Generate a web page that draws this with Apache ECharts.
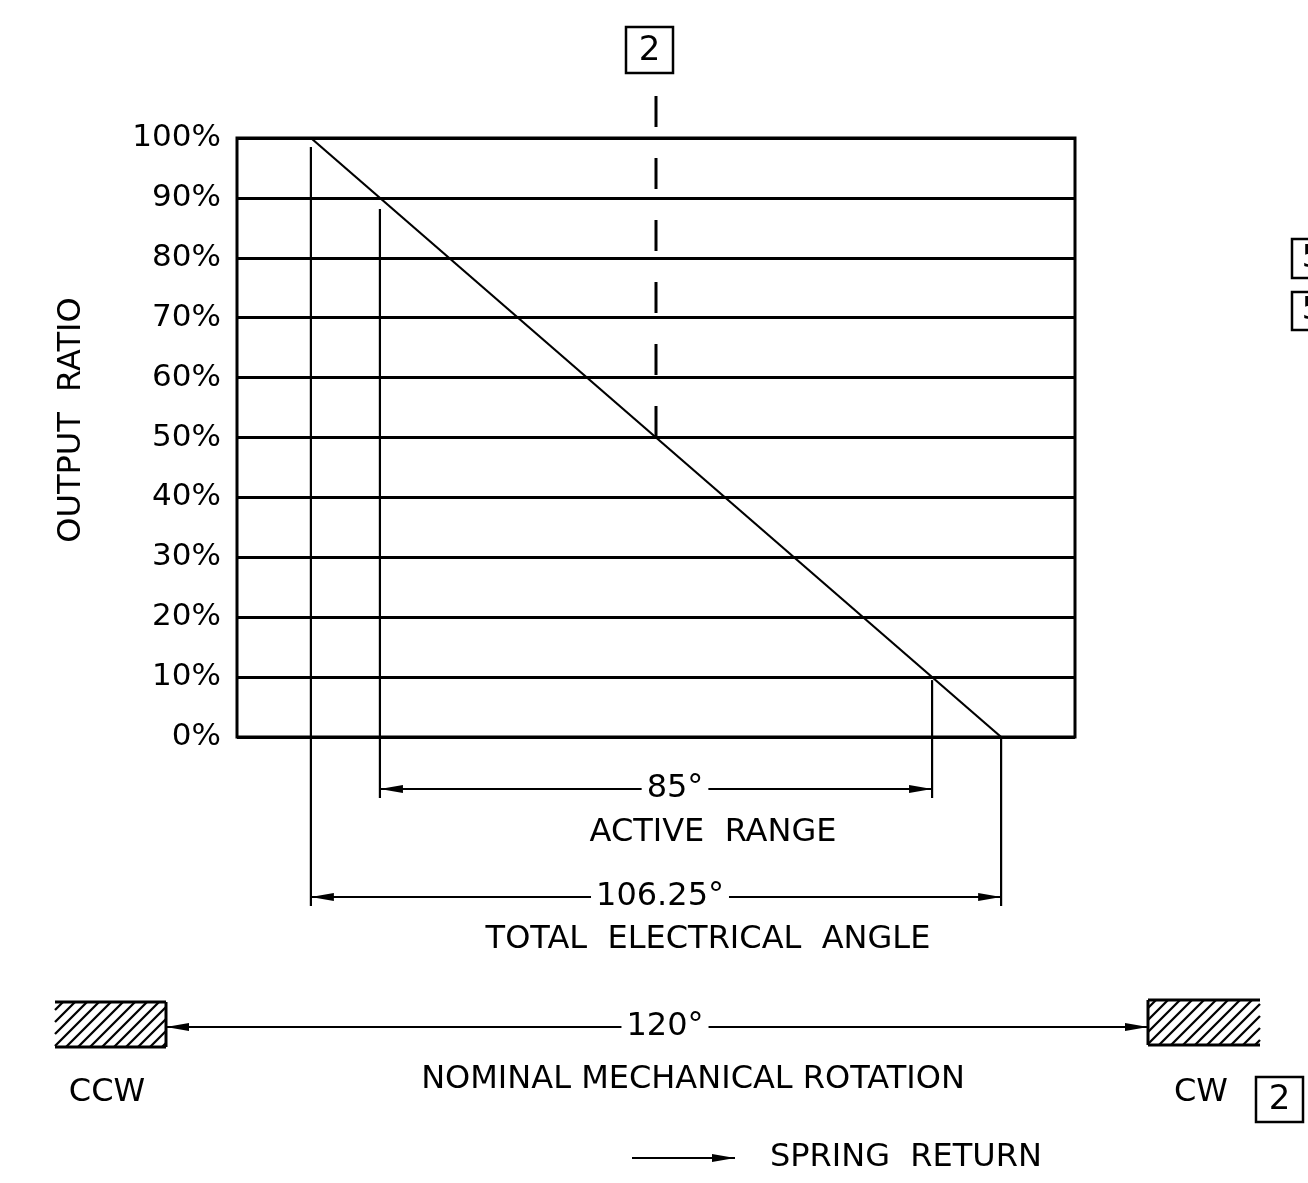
<!DOCTYPE html>
<html>
<head>
<meta charset="utf-8">
<script src="https://cdn.jsdelivr.net/npm/echarts@6/dist/echarts.min.js"></script>
<style>
  html, body { margin: 0; padding: 0; background: #fff; }
  #chart { width: 1308px; height: 1183px; }
</style>
</head>
<body>
<div id="chart"></div>
<script>
// ---- data (degrees of rotation, output ratio in %) ----
const outputTicks = [0, 10, 20, 30, 40, 50, 60, 70, 80, 90, 100];
const curveAngle = [-53.125, 53.125];        // electrical angle endpoints (deg, centred on 50%)
const curveOutput = [100, 0];                // output ratio at those endpoints (%)
const activeRangeOutput = [90, 10];          // output ratio at active range ends (%)
const activeRangeDeg = 85;
const totalElectricalDeg = 106.25;
const mechanicalRotationDeg = 120;
const refMarkOutput = 50;                    // boxed "2" reference point

const FONT = 'DejaVu Sans';
const FS = 32;
const chart = echarts.init(document.getElementById('chart'), null, { renderer: 'canvas' });

const curve = curveAngle.map((a, i) => [a, curveOutput[i]]);

chart.setOption({
  backgroundColor: '#ffffff',
  animation: false,
  grid: { left: 237, right: 233, top: 138, bottom: 446, show: true, borderColor: '#000', borderWidth: 3, backgroundColor: 'transparent' },
  xAxis: { type: 'value', min: -64.5, max: 64.5, show: false },
  yAxis: {
    type: 'value', min: 0, max: 100, interval: 10,
    axisLine: { show: false }, axisTick: { show: false },
    axisLabel: { formatter: '{value}%', color: '#000', fontFamily: FONT, fontSize: 31, margin: 16 },
    splitLine: { show: true, lineStyle: { color: '#000', width: 3 } }
  },
  series: [{
    type: 'line', data: curve, symbol: 'none', clip: false,
    lineStyle: { color: '#000', width: 2.2 }
  }]
});

// helpers
const P = (x, y) => chart.convertToPixel({ gridIndex: 0 }, [x, y]);
const halfActive = activeRangeDeg / 2;
const els = [];
const line = (x1, y1, x2, y2, w, dash) => els.push({
  type: 'line', shape: { x1, y1, x2, y2 },
  style: { stroke: '#000', lineWidth: w || 2.2, lineDash: dash || null }, z: 10
});
const arrow = (tipX, y, dir) => els.push({
  type: 'polygon', shape: { points: [[tipX, y], [tipX - dir * 23, y - 4], [tipX - dir * 23, y + 4]] },
  style: { fill: '#000' }, z: 11
});
const text = (t, x, y, size, align, bg) => els.push({
  type: 'text', x, y, style: {
    text: t, fill: '#000', font: `${size || FS}px "${FONT}"`, textAlign: align || 'center', textVerticalAlign: 'middle',
    backgroundColor: bg ? '#fff' : null, padding: bg ? [0, 5] : null
  }, z: 12
});
const boxed = (t, x, y, w, h) => {
  els.push({ type: 'rect', shape: { x, y, width: w, height: h }, style: { fill: '#fff', stroke: '#000', lineWidth: 2.5 }, z: 10 });
  text(t, x + w / 2, y + h / 2 + 1, 34);
};
const hatch = (x0, y0, x1, y1, openSide) => {
  const s = 12;
  for (let c = x0 + y0 + 8; c < x1 + y1; c += s) {
    const xa = Math.max(x0, c - y1), xb = Math.min(x1, c - y0);
    if (xa < xb) line(xa, c - xa, xb, c - xb, 2.3);
  }
  line(x0, y0, x1, y0, 3); line(x0, y1, x1, y1, 3);
  if (openSide === 'left') line(x1, y0, x1, y1, 3); else line(x0, y0, x0, y1, 3);
};

// curve endpoints and active-range points in pixels
const pTop = P(curveAngle[0], curveOutput[0]);
const pBot = P(curveAngle[1], curveOutput[1]);
const pA90 = P(-halfActive, activeRangeOutput[0]);
const pA10 = P(halfActive, activeRangeOutput[1]);
const pRef = P(0, refMarkOutput);

// extension lines
const yTotal = 897, yActive = 789;
line(pTop[0], pTop[1] + 9, pTop[0], yTotal + 9);
line(pBot[0], pBot[1], pBot[0], yTotal + 9);
line(pA90[0], pA90[1] + 11, pA90[0], yActive + 9);
line(pA10[0], pA10[1] + 3, pA10[0], yActive + 9);

// active range dimension
line(pA90[0], yActive, pA10[0], yActive);
arrow(pA90[0], yActive, -1); arrow(pA10[0], yActive, 1);
text(activeRangeDeg + '°', 675, yActive, FS, 'center', true);
text('ACTIVE  RANGE', 713, 833, FS);

// total electrical angle dimension
line(pTop[0], yTotal, pBot[0], yTotal);
arrow(pTop[0], yTotal, -1); arrow(pBot[0], yTotal, 1);
text(totalElectricalDeg + '°', 660, yTotal, FS, 'center', true);
text('TOTAL  ELECTRICAL  ANGLE', 708, 940, FS);

// mechanical rotation (not to scale in the drawing)
const yMech = 1027, mL = 166, mR = 1148;
line(mL, yMech, mR, yMech);
arrow(mL, yMech, -1); arrow(mR, yMech, 1);
text(mechanicalRotationDeg + '°', 665, yMech, FS, 'center', true);
text('NOMINAL MECHANICAL ROTATION', 693, 1080, FS);
hatch(55, 1002, 166, 1047, 'left');
hatch(1148, 1000, 1260, 1045, 'right');
text('CCW', 107, 1093, FS);
text('CW', 1201, 1093, FS);
boxed('2', 1256, 1077, 47, 45);

// reference mark 2 with dashed centre line to 50%
boxed('2', 626, 27, 47, 46);
line(pRef[0], 96, pRef[0], pRef[1], 3, [31, 31]);

// spring return legend
line(632, 1158, 735, 1158, 2.2);
arrow(735, 1158, 1);
text('SPRING  RETURN', 770, 1158, FS, 'left');

// axis title
els.push({ type: 'text', x: 72, y: 420, rotation: Math.PI / 2, style: { text: 'OUTPUT  RATIO', fill: '#000', font: `${FS}px "${FONT}"`, textAlign: 'center', textVerticalAlign: 'middle' }, z: 12 });

// cut-off boxed notes at right edge
els.push({ type: 'rect', shape: { x: 1292, y: 239, width: 40, height: 39 }, style: { fill: '#fff', stroke: '#000', lineWidth: 2.5 }, z: 10 });
text('5', 1312, 259, FS);
els.push({ type: 'rect', shape: { x: 1292, y: 292, width: 40, height: 38 }, style: { fill: '#fff', stroke: '#000', lineWidth: 2.5 }, z: 10 });
text('5', 1312, 311, FS);

chart.setOption({ graphic: { elements: els } });
</script>
</body>
</html>
